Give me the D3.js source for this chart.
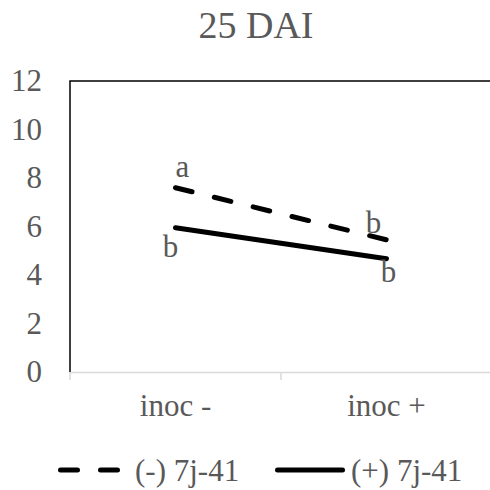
<!DOCTYPE html>
<meta charset="utf-8">
<style>
  body { margin: 0; background: #fff; }
</style>
<body></body>
<script src="https://d3js.org/d3.v7.min.js"></script>
<script>

// data
var categories = ["inoc -", "inoc +"];
var seriesNames = ["(-) 7j-41", "(+) 7j-41"];
var minusValues = [7.6, 5.45];
var plusValues = [5.95, 4.67];
var minusLetters = ["a", "b"];
var plusLetters = ["b", "b"];
var yTicks = [0, 2, 4, 6, 8, 10, 12];
var title = "25 DAI";

var W = 490, H = 490;
// note: "top" is taken by window.top, so plot edges get their own names
var plotL = 70, plotR = 492, plotT = 81, plotB = 372;
var FONT = "'Liberation Serif', 'Times New Roman', serif";
var GREY = "#595959";

var svg = d3.select("body").append("svg")
    .attr("width", W)
    .attr("height", H);

// every text gets the serif face + grey
function serif(sel, size) {
  sel.style("font-family", FONT)
     .style("font-size", size + "px")
     .style("fill", GREY);
}

var x = d3.scaleBand().domain(categories).range([plotL, plotR]);
var y = d3.scaleLinear().domain([0, 12]).range([plotB, plotT]);

// title
svg.append("text")
    .attr("x", 256).attr("y", 38)
    .attr("text-anchor", "middle")
    .text(title)
    .call(serif, 38);

// plot frame (left + top black, right is cut off)
svg.append("path")
    .attr("d", "M" + plotL + "," + plotB + "V" + plotT + "H" + W)
    .attr("fill", "none")
    .attr("stroke", "#000")
    .attr("stroke-width", 1.5);

// y axis labels
var yaxis = d3.axisLeft(y).tickValues(yTicks).tickSize(0).tickPadding(28);
var gy = svg.append("g")
    .attr("transform", "translate(" + plotL + ",0)")
    .call(yaxis);
gy.select(".domain").remove();
gy.selectAll("text").call(serif, 31);

// x axis, light grey line with tick marks between categories
var xaxis = d3.axisBottom(x).tickSize(0).tickPadding(22);
var gx = svg.append("g")
    .attr("transform", "translate(0," + plotB + ")")
    .call(xaxis);
gx.select(".domain").attr("stroke", "#d9d9d9").attr("stroke-width", 1.5);
gx.selectAll("text").call(serif, 31);
gx.selectAll("line.sep")
    .data(d3.range(categories.length + 1))
    .enter().append("line")
    .attr("class", "sep")
    .attr("x1", function(i) { return plotL + i * x.step(); })
    .attr("x2", function(i) { return plotL + i * x.step(); })
    .attr("y1", 0).attr("y2", 8)
    .attr("stroke", "#d9d9d9")
    .attr("stroke-width", 1.5);

var line = d3.line()
    .x(function(d, i) { return x(categories[i]) + x.bandwidth() / 2; })
    .y(function(d) { return y(d); });

var series = [
  {name: seriesNames[0], values: minusValues, letters: minusLetters, dash: "17,23", offs: [[7, -11], [-13, -7]]},
  {name: seriesNames[1], values: plusValues, letters: plusLetters, dash: null, offs: [[-5, 29], [2, 23]]}
];

series.forEach(function(s) {
  svg.append("path")
      .datum(s.values)
      .attr("d", line)
      .attr("fill", "none")
      .attr("stroke", "#000")
      .attr("stroke-width", 5)
      .attr("stroke-linecap", "round")
      .attr("stroke-dasharray", s.dash);

  svg.selectAll(null)
      .data(s.values)
      .enter().append("text")
      .attr("x", function(d, i) { return x(categories[i]) + x.bandwidth() / 2 + s.offs[i][0]; })
      .attr("y", function(d, i) { return y(d) + s.offs[i][1]; })
      .attr("text-anchor", "middle")
      .text(function(d, i) { return s.letters[i]; })
      .call(serif, 31);
});

// legend
var legendPos = [{x1: 58, x2: 122, tx: 135}, {x1: 275, x2: 345, tx: 351}];
var lg = svg.append("g");
series.forEach(function(s, i) {
  var p = legendPos[i];
  lg.append("line")
      .attr("x1", p.x1 + 2.5).attr("x2", p.x2 - 2.5)
      .attr("y1", 470).attr("y2", 470)
      .attr("stroke", "#000")
      .attr("stroke-width", 5)
      .attr("stroke-linecap", "round")
      .attr("stroke-dasharray", s.dash);
  lg.append("text")
      .attr("x", p.tx).attr("y", 481)
      .text(s.name)
      .call(serif, 31);
});

</script>
